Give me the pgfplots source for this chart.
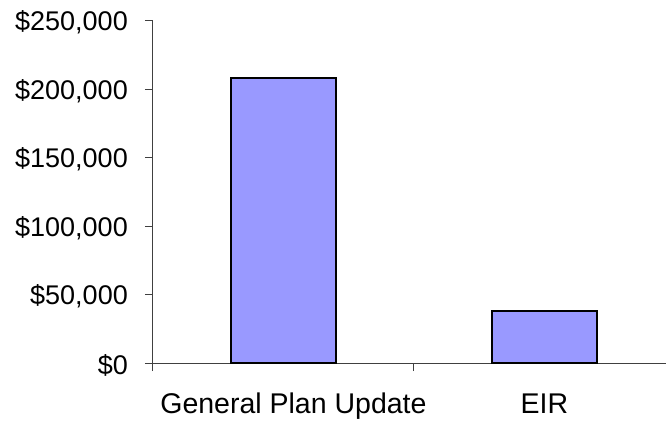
\documentclass[border=0pt]{standalone}
\usepackage{fontspec}
\setmainfont{Liberation Sans}
\usepackage{pgfplots}
\pgfplotsset{compat=1.18}
\definecolor{barblue}{HTML}{9999FF}
\definecolor{axgray}{HTML}{404040}
\begin{document}
\begin{tikzpicture}
\begin{axis}[
  scale only axis,
  width=513pt, height=342.3pt,
  xmin=-0.5, xmax=1.466,
  ymin=0, ymax=250000,
  axis x line=bottom, axis y line=left,
  axis line style={-, axgray, line width=1pt},
  scaled y ticks=false,
  xtick={-0.5,0.5},
  xticklabels={},
  extra x ticks={0,1},
  extra x tick labels={\hspace*{20pt}General Plan Update, EIR},
  extra x tick style={major tick length=0pt, tick style={draw=none}},
  ytick={0,50000,100000,150000,200000,250000},
  yticklabels={{\$0},{\$50,000},{\$100,000},{\$150,000},{\$200,000},{\$250,000}},
  tick style={draw=axgray, line width=1pt},
  tick align=outside,
  major tick length=8pt,
  ticklabel style={font=\fontsize{27}{32}\selectfont},
  yticklabel style={anchor=east, inner sep=0pt, xshift=-17pt, yshift=-2pt},
  xticklabel style={anchor=base, inner sep=0pt, yshift=-50pt, font=\fontsize{28.5}{32}\selectfont},
  /pgf/number format/assume math mode=true,
  ybar, bar width=0.4,
  clip=false,
]
\addplot[fill=barblue, draw=black, line width=2pt] coordinates {(0,208000) (1,38000)};
\end{axis}
\pgfresetboundingbox
\path[use as bounding box] (-153pt,-58pt) rectangle (513pt,363pt);
\end{tikzpicture}
\end{document}
